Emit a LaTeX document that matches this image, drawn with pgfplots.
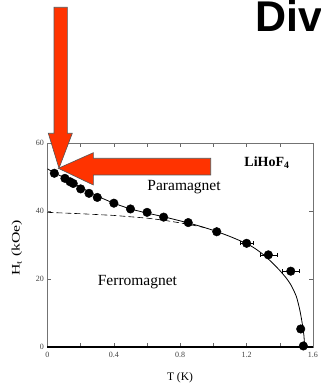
\documentclass[border=0pt]{standalone}
\usepackage{fontspec}
\setmainfont{Liberation Serif}
\newfontfamily\sansbold[BoldFont={Liberation Sans Bold}]{Liberation Sans}
\usepackage{graphicx}
\usepackage{pgfplots}
\pgfplotsset{compat=1.18}
\definecolor{arrowred}{HTML}{FF3300}
\definecolor{arrowedge}{HTML}{555555}
\begin{document}
\begin{tikzpicture}[x=1pt,y=1pt]
\useasboundingbox (0,0) rectangle (321,389);
\node[anchor=base west, inner sep=0pt, font=\sansbold\bfseries\fontsize{43}{46}\selectfont] at (255,357) {Div};
\begin{axis}[
  at={(47.5pt,42pt)}, anchor=south west,
  scale only axis, width=265.5pt, height=204pt,
  xmin=0, xmax=1.6, ymin=0, ymax=60,
  xtick={0,0.4,0.8,1.2,1.6},
  xticklabels={0,0.4,0.8,1.2,1.6},
  minor xtick={0.2,0.6,1.0,1.4},
  ytick={0,20,40,60},
  tick align=inside,
  major tick length=4pt, minor tick length=4pt,
  axis line style={black!55, line width=0.6pt},
  tick style={black!60, line width=0.6pt},
  tick label style={font=\fontsize{8}{9}\selectfont, text=black!75},
  /pgf/number format/assume math mode=true,
  xticklabel style={yshift=-2pt},
  xlabel={T (K)},
  ylabel={\scalebox{1.37}[1]{H$_{\mathrm{t}}$ (kOe)}},
  every axis x label/.style={at={(axis description cs:0.499,-0.152)}, anchor=center, font=\fontsize{11.5}{12}\selectfont},
  every axis y label/.style={at={(axis description cs:-0.115,0.485)}, anchor=center, rotate=90, font=\fontsize{11.5}{12}\selectfont},
  clip=false,
]
\addplot[black, line width=0.8pt, smooth, tension=0.4] coordinates {
(0,52.4) (0.05,51.0) (0.1,49.8) (0.2,47.0) (0.3,44.4) (0.4,42.3) (0.5,40.6)
(0.6,39.4) (0.7,38.3) (0.8,37.1) (0.9,35.8) (1.0,34.3) (1.1,32.5) (1.2,30.4)
(1.25,29.0) (1.3,27.2) (1.35,25.0) (1.4,22.5) (1.44,20.2) (1.47,18.0)
(1.5,14.8) (1.52,11.0) (1.535,7.0) (1.545,3.5) (1.55,0)
};
\addplot[black, line width=0.6pt, dash pattern=on 6pt off 3pt] coordinates {
(0,39.6) (0.2,39.2) (0.4,38.7) (0.6,37.9) (0.7,37.3) (0.8,36.5) (0.9,35.6) (0.95,35.1)
};
\addplot[only marks, mark=*, mark size=4.3pt, black,
  error bars/.cd, x dir=both, x explicit,
  error bar style={black, line width=0.5pt},
  error mark options={rotate=90, mark size=2pt, black}]
  table[x=T, y=H, x error=dT] {
T H dT
0.041 51.1 0
0.105 49.6 0
0.136 48.6 0
0.155 48.1 0
0.20 46.5 0
0.25 45.2 0
0.30 44.0 0
0.40 42.3 0
0.50 40.6 0
0.60 39.6 0
0.70 38.2 0
0.848 36.6 0
1.02 33.9 0
1.20 30.5 0.037
1.331 27.1 0.052
1.466 22.3 0.052
1.526 5.3 0
1.542 0.3 0
};
\draw[black, line width=1.3pt] (rel axis cs:0,0) -- (rel axis cs:1,0);
\node[font=\bfseries\fontsize{14}{16}\selectfont] at (axis cs:1.323,54.1) {LiHoF$_{\mathbf{4}}$};
\node[font=\fontsize{15.5}{17}\selectfont] at (axis cs:0.823,47.1) {Paramagnet};
\node[font=\fontsize{15.5}{17}\selectfont] at (axis cs:0.542,19.1) {Ferromagnet};
\end{axis}
\filldraw[fill=arrowred, draw=arrowedge, line width=0.6pt]
  (54,381.7) -- (67.3,381.7) -- (67.3,255.7) -- (72.3,255.7) -- (59,220.7) -- (48.3,255.7) -- (54,255.7) -- cycle;
\filldraw[fill=arrowred, draw=arrowedge, line width=0.6pt]
  (58.3,220.7) -- (93.3,236.3) -- (93.3,230.7) -- (210.7,230.7) -- (210.7,214) -- (93.3,214) -- (93.3,204) -- cycle;
\end{tikzpicture}
\end{document}
